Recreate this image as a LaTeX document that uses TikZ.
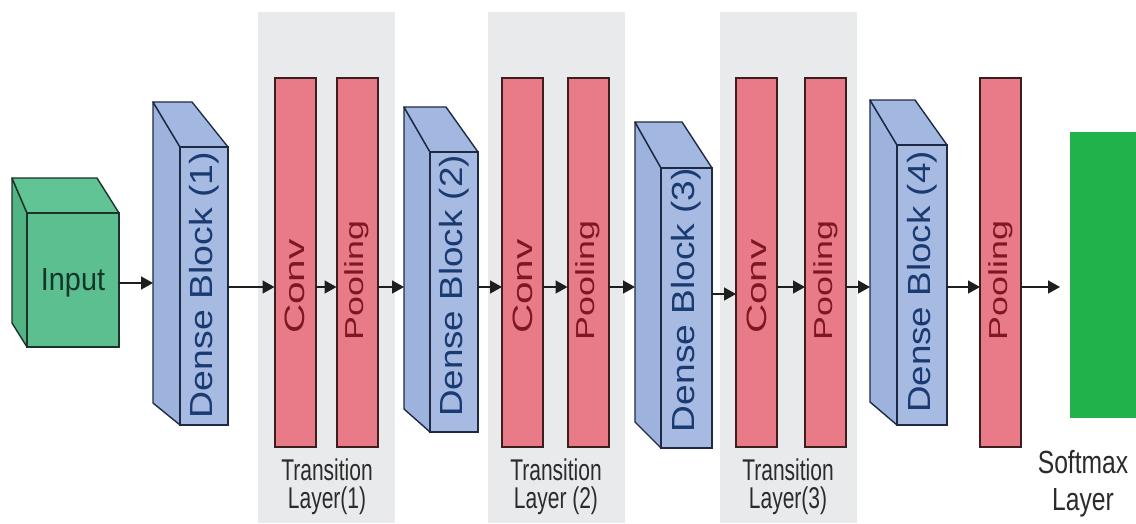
\documentclass[tikz,border=0pt]{standalone}
\usepackage{fontspec}
\setmainfont{Liberation Sans}
\usetikzlibrary{arrows.meta}

\definecolor{panelgray}{HTML}{E9EAEC}
\definecolor{redfill}{HTML}{E97B89}
\definecolor{redline}{HTML}{3B1F1F}
\definecolor{redtext}{HTML}{7E1820}
\definecolor{bluefront}{HTML}{A7BBE2}
\definecolor{blueside}{HTML}{9DB2DC}
\definecolor{bluetop}{HTML}{A3B8E0}
\definecolor{blueline}{HTML}{1E2A44}
\definecolor{bluetext}{HTML}{1A3A72}
\definecolor{greenfront}{HTML}{5CBF8F}
\definecolor{greenside}{HTML}{52B384}
\definecolor{greentop}{HTML}{60C495}
\definecolor{greenline}{HTML}{1B3328}
\definecolor{greentext}{HTML}{14352A}
\definecolor{softgreen}{HTML}{21B24B}
\definecolor{labelgray}{HTML}{2B2B2B}
\definecolor{arrowgray}{HTML}{1E1E1E}

% 3-D box: name, front x1,y1,x2,y2, back-left x, back top y, back-right x, back bottom y
\newcommand\blockcube[9]{%
  \filldraw[cubeside] (#2,#3) -- (#6,#7) -- (#6,#9) -- (#2,#5) -- cycle;
  \filldraw[cubetop] (#6,#7) -- (#8,#7) -- (#4,#3) -- (#2,#3) -- cycle;
  \node[cubefront, minimum width={(#4-#2)*1pt}, minimum height={(#5-#3)*1pt}]
    (#1) at ({(#2+#4)/2},{(#3+#5)/2}) {};
  \coordinate (#1-side) at (#6,{(#7+#9)/2});
}

\begin{document}
\begin{tikzpicture}[x=1pt,y=-1pt,
  panel/.style={fill=panelgray, draw=none, inner sep=0pt, outer sep=0pt,
    minimum width=137pt, minimum height=511pt},
  bar/.style={fill=redfill, draw=redline, line width=2pt, inner sep=0pt, outer sep=0pt,
    minimum width=41pt, minimum height=369pt},
  bluebox/.style={
    cubeside/.style={fill=blueside, draw=blueline, line width=1.4pt, line join=round},
    cubetop/.style={fill=bluetop, draw=blueline, line width=1.4pt, line join=round},
    cubefront/.style={fill=bluefront, draw=blueline, line width=1.4pt, inner sep=0pt, outer sep=0pt}},
  greenbox/.style={
    cubeside/.style={fill=greenside, draw=greenline, line width=1.4pt, line join=round},
    cubetop/.style={fill=greentop, draw=greenline, line width=1.4pt, line join=round},
    cubefront/.style={fill=greenfront, draw=greenline, line width=1.6pt, inner sep=0pt, outer sep=0pt}},
  densetxt/.style={rotate=90, text=bluetext, inner sep=0pt, font=\fontsize{32}{34}\selectfont},
  convtxt/.style={rotate=90, text=redtext, inner sep=0pt, font=\fontsize{28}{30}\selectfont},
  pooltxt/.style={rotate=90, text=redtext, inner sep=0pt, font=\fontsize{26}{28}\selectfont},
  caption/.style={anchor=base, text=labelgray, inner sep=0pt},
  flow/.style={draw=arrowgray, line width=1.6pt,
    -{Triangle[length=12pt,width=13pt]}}
]
\useasboundingbox (0,0) rectangle (1136,523);
\fill[white] (0,0) rectangle (1136,523);

% transition layer backgrounds
\node[panel] (t1) at (326.5,267.5) {};
\node[panel] (t2) at (556,267.5) {};
\node[panel] (t3) at (788.5,267.5) {};

% input volume
\begin{scope}[greenbox]
  \blockcube{in}{27}{213}{119}{347}{12}{178}{97}{323}
\end{scope}
\node[anchor=base, text=greentext, inner sep=0pt,
  font=\fontsize{32}{34}\selectfont] at (73,290) {\scalebox{0.9}[1]{Input}};

% dense blocks
\begin{scope}[bluebox]
  \blockcube{d1}{180}{147}{228}{425}{153}{102}{192}{403}
  \blockcube{d2}{430}{152}{478}{432}{404}{107}{446}{409}
  \blockcube{d3}{661}{168}{712}{448}{635}{122}{682}{422}
  \blockcube{d4}{897}{145}{947}{425}{870}{100}{915}{402}
\end{scope}
\node[densetxt] at (204,285) {\scalebox{1.17}[1]{Dense Block (1)}};
\node[densetxt] at (454,286) {\scalebox{1.15}[1]{Dense Block (2)}};
\node[densetxt] at (686,300) {\scalebox{1.16}[1]{Dense Block (3)}};
\node[densetxt] at (922,282) {\scalebox{1.15}[1]{Dense Block (4)}};

% convolution and pooling layers
\node[bar] (c1) at (295,262.5) {};
\node[bar] (p1) at (357,262.5) {};
\node[bar] (c2) at (522.5,262.5) {};
\node[bar] (p2) at (588,262.5) {};
\node[bar] (c3) at (756.5,262.5) {};
\node[bar] (p3) at (825.5,262.5) {};
\node[bar] (p4) at (1000.5,262.5) {};
\foreach \b in {c1,c2,c3}
  \node[convtxt] at ([yshift=-24pt]\b.center) {\scalebox{1.45}[1]{Conv}};
\foreach \b in {p1,p2,p3,p4}
  \node[pooltxt] at ([yshift=-18pt]\b.center) {\scalebox{1.38}[1]{Pooling}};

% softmax layer
\node[fill=softgreen, inner sep=0pt, outer sep=0pt,
  minimum width=66pt, minimum height=286pt] (sm) at (1103,275) {};

% captions
\begin{scope}[font=\fontsize{30}{30}\selectfont]
  \node[caption] at (327,480) {\scalebox{0.7}[1]{Transition}};
  \node[caption] at (327,508) {\scalebox{0.7}[1]{Layer(1)}};
  \node[caption] at (556,480) {\scalebox{0.7}[1]{Transition}};
  \node[caption] at (556,508) {\scalebox{0.7}[1]{Layer (2)}};
  \node[caption] at (788,480) {\scalebox{0.7}[1]{Transition}};
  \node[caption] at (788,508) {\scalebox{0.7}[1]{Layer(3)}};
\end{scope}
\node[caption, font=\fontsize{32}{32}\selectfont] at (1083,473) {\scalebox{0.77}[1]{Softmax}};
\node[caption, font=\fontsize{32}{32}\selectfont] at (1083,510) {\scalebox{0.77}[1]{Layer}};

% data flow
\coordinate (rin) at (0,283);
\coordinate (r) at (0,287);
\coordinate (r3) at (0,294);
\coordinate (smin) at ([xshift=-10pt]sm.west);
\draw[flow] (in.east |- rin) -- (d1-side |- rin);
\draw[flow] (d1.east |- r) -- (c1.west |- r);
\draw[flow] (c1.east |- r) -- (p1.west |- r);
\draw[flow] (p1.east |- r) -- (d2-side |- r);
\draw[flow] (d2.east |- r) -- (c2.west |- r);
\draw[flow] (c2.east |- r) -- (p2.west |- r);
\draw[flow] (p2.east |- r) -- (d3-side |- r);
\draw[flow] (d3.east |- r3) -- (c3.west |- r3);
\draw[flow] (c3.east |- r) -- (p3.west |- r);
\draw[flow] (p3.east |- r) -- (d4-side |- r);
\draw[flow] (d4.east |- r) -- (p4.west |- r);
\draw[flow] (p4.east |- r) -- (smin |- r);
\end{tikzpicture}
\end{document}
